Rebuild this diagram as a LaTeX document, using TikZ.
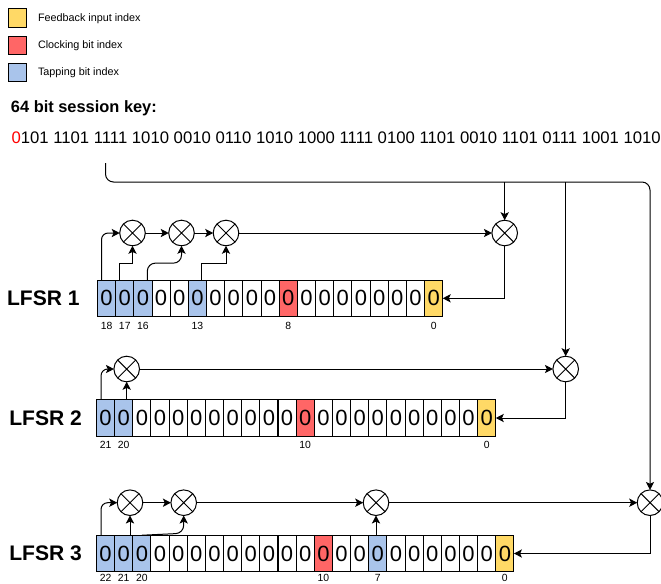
\documentclass[tikz,border=0pt]{standalone}
\usepackage{fontspec}
\setmainfont{Liberation Sans}
\usepackage{xcolor}
\usetikzlibrary{positioning,arrows.meta}
\definecolor{fbyellow}{HTML}{FFD966}
\definecolor{clkred}{HTML}{FF6666}
\definecolor{tapblue}{HTML}{A9C4EB}
\newcommand{\fsize}[1]{\fontsize{#1}{#1}\selectfont}
\begin{document}
\begin{tikzpicture}[x=0.75pt,y=-0.75pt,line width=0.75pt,
  cell/.style={rectangle,draw,inner sep=0pt,outer sep=0pt,minimum width=13.62pt,minimum height=27.4pt,font=\fsize{16.5}},
  tap/.style={fill=tapblue},
  clk/.style={fill=clkred},
  fb/.style={fill=fbyellow},
  swatch/.style={rectangle,draw,inner sep=0pt,outer sep=0pt,minimum size=13.8pt},
  idx/.style={inner sep=0pt,font=\fsize{7.8}},
  txt/.style={anchor=west,inner sep=0pt},
  lbl/.style={inner sep=0pt,font=\bfseries\fsize{15.8}},
  xr/.style={circle,draw,inner sep=0pt,outer sep=0pt,minimum size=19.2pt,
    path picture={\draw (path picture bounding box.north west)--(path picture bounding box.south east)
      (path picture bounding box.south west)--(path picture bounding box.north east);}},
  ar/.style={-{Stealth[length=6pt,width=6.2pt,inset=1.4pt]}},
  % which cells carry a colour
  a18/.style={tap},a17/.style={tap},a16/.style={tap},a13/.style={tap},a8/.style={clk},a0/.style={fb},
  b21/.style={tap},b20/.style={tap},b10/.style={clk},b0/.style={fb},
  c22/.style={tap},c21/.style={tap},c20/.style={tap},c10/.style={clk},c7/.style={tap},c0/.style={fb}]
  \useasboundingbox (0,0) rectangle (661,583);

  % legend
  \node[swatch,fb] (s1) at (17.5,18) {};
  \node[swatch,clk] (s2) at (17.5,45.3) {};
  \node[swatch,tap] (s3) at (17.5,72.5) {};
  \node[txt,font=\fsize{8.1}] (t1) at (37.5,18.3) {Feedback input index};
  \node[txt,font=\fsize{8.1}] (t2) at (37.5,45.3) {Clocking bit index};
  \node[txt,font=\fsize{8.1}] (t3) at (37.5,72.3) {Tapping bit index};

  % key
  \node[txt,font=\bfseries\fsize{12.3}] (title) at (10.5,108) {64 bit session key:};
  \node[txt,font=\fsize{12.53}] (key) at (11,137.5) {\textcolor{red}{0}101 1101 1111 1010 0010 0110 1010 1000 1111 0100 1101 0010 1101 0111 1001 1010};

  % registers
  \foreach \i in {0,...,18}
    \node[cell,a\i/.try] (a\i) at ({97.5+(18.5-\i)*18.17},298.3) {0};
  \foreach \i in {0,...,21}
    \node[cell,b\i/.try] (b\i) at ({96.5+(21.5-\i)*18.15},418) {0};
  \foreach \i in {0,...,22}
    \node[cell,c\i/.try] (c\i) at ({96.5+(22.5-\i)*18.15},553.5) {0};

  \node[lbl,left=13pt of a18] (l1) {LFSR 1};
  \node[lbl,left=10.6pt of b21] (l2) {LFSR 2};
  \node[lbl,left=10.6pt of c22] (l3) {LFSR 3};

  % bit indices
  \foreach \i in {18,17,16,13,8,0}
    \node[idx,below=3.8pt of a\i] (na\i) {\i};
  \foreach \i in {21,20,10,0}
    \node[idx,below=3.6pt of b\i] (nb\i) {\i};
  \foreach \i in {22,21,20,10,7,0}
    \node[idx,below=1.8pt of c\i] (nc\i) {\i};

  % xor gates
  \node[xr] (xa1) at (132.5,233) {};
  \node[xr] (xa2) at (181.5,233) {};
  \node[xr] (xa3) at (226,233) {};
  \node[xr] (xa4) at (504.7,233) {};
  \node[xr] (xb1) at (126.7,369) {};
  \node[xr] (xb2) at (565.7,369) {};
  \node[xr] (xc1) at (130,502.7) {};
  \node[xr] (xc2) at (183.7,502.7) {};
  \node[xr] (xc3) at (376,502.7) {};
  \node[xr] (xc4) at (650,502.7) {};

  % key bus
  \coordinate (keytap) at (105.5,163);
  \coordinate (keybus) at (650,182);
  \draw[ar,rounded corners=6pt] (keytap) |- (keybus) -- (xc4.north);
  \draw[ar] (xa4.north |- keybus) -- (xa4.north);
  \draw[ar] (xb2.north |- keybus) -- (xb2.north);

  % LFSR 1
  \draw[ar,rounded corners=5pt] ([xshift=3pt]a18.north west) |- (xa1.west);
  \draw[ar] ([xshift=3.2pt]a17.north west) |- ([yshift=-13.5pt]xa1.south) -- (xa1.south);
  \draw[ar,rounded corners=6pt] ([xshift=3.3pt]a16.north) |- ([yshift=-13pt]xa2.south) -- (xa2.south);
  \draw[ar] ([xshift=3.2pt]a13.north) |- ([yshift=-13.5pt]xa3.south) -- (xa3.south);
  \draw[ar] (xa1) -- (xa2);
  \draw[ar] (xa2) -- (xa3);
  \draw[ar] (xa3) -- (xa4);
  \draw[ar] (xa4.south) |- (a0.east);

  % LFSR 2
  \draw[ar,rounded corners=5pt] ([xshift=3.4pt]b21.north west) |- (xb1.west);
  \draw[ar] (xb1.south |- b20.north) -- (xb1.south);
  \draw[ar] (xb1) -- (xb2);
  \draw[ar] (xb2.south) |- (b0.east);

  % LFSR 3
  \draw[ar,rounded corners=5pt] ([xshift=3.4pt]c22.north west) |- (xc1.west);
  \draw[ar] (xc1.south |- c21.north) -- (xc1.south);
  \draw[ar,rounded corners=6pt] (c20.north) -- ([yshift=1.5pt]xc2.south |- c20.north) -- (xc2.south);
  \draw[ar] (xc1) -- (xc2);
  \draw[ar] (xc2) -- (xc3);
  \draw[ar] (xc3.south |- c7.north) -- (xc3.south);
  \draw[ar] (xc3) -- (xc4);
  \draw[ar] (xc4.south) |- (c0.east);
\end{tikzpicture}
\end{document}
